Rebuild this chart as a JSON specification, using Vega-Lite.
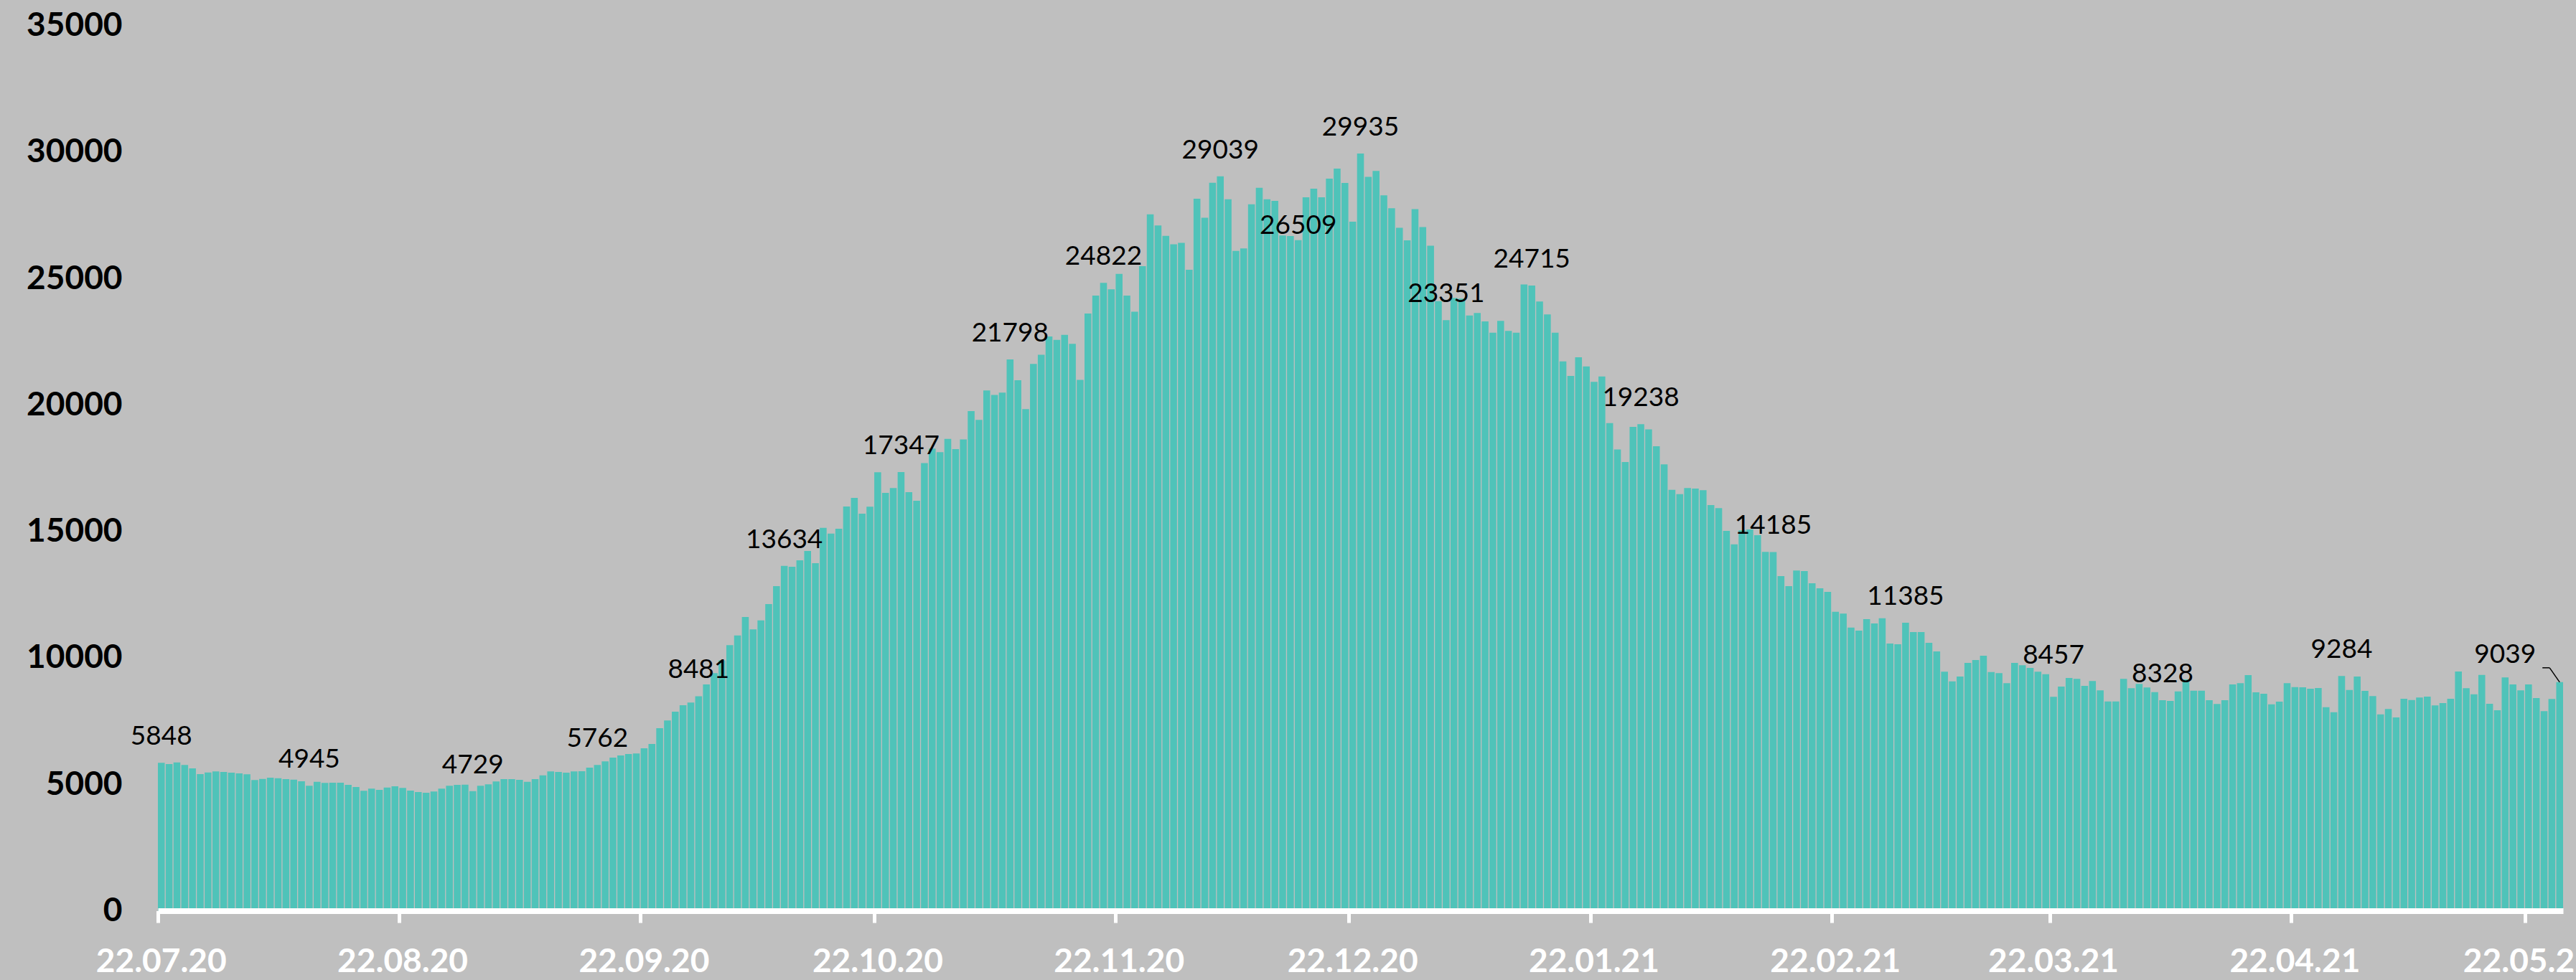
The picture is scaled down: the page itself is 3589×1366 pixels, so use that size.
{
  "$schema": "https://vega.github.io/schema/vega-lite/v6.json",
  "width": 3351,
  "height": 1234,
  "autosize": {"type": "none"},
  "padding": {"left": 220, "top": 35.5, "right": 18, "bottom": 96.5},
  "background": "#BFBFBF",
  "config": {"view": {"stroke": null}, "font": "Lato"},
  "data": {"values": [
    {"d":"22.07.20","v":5848},{"d":"23.07.20","v":5800},{"d":"24.07.20","v":5866},{"d":"25.07.20","v":5763},{"d":"26.07.20","v":5630},{"d":"27.07.20","v":5403},{"d":"28.07.20","v":5469},{"d":"29.07.20","v":5507},{"d":"30.07.20","v":5488},{"d":"31.07.20","v":5460},
    {"d":"01.08.20","v":5431},{"d":"02.08.20","v":5394},{"d":"03.08.20","v":5167},{"d":"04.08.20","v":5214},{"d":"05.08.20","v":5261},{"d":"06.08.20","v":5242},{"d":"07.08.20","v":5205},{"d":"08.08.20","v":5186},{"d":"09.08.20","v":5120},{"d":"10.08.20","v":4945},{"d":"11.08.20","v":5101},{"d":"12.08.20","v":5053},{"d":"13.08.20","v":5063},{"d":"14.08.20","v":5063},{"d":"15.08.20","v":4978},{"d":"16.08.20","v":4893},{"d":"17.08.20","v":4742},{"d":"18.08.20","v":4827},{"d":"19.08.20","v":4780},{"d":"20.08.20","v":4874},{"d":"21.08.20","v":4921},{"d":"22.08.20","v":4855},{"d":"23.08.20","v":4751},{"d":"24.08.20","v":4694},{"d":"25.08.20","v":4666},{"d":"26.08.20","v":4714},{"d":"27.08.20","v":4827},{"d":"28.08.20","v":4941},{"d":"29.08.20","v":4978},{"d":"30.08.20","v":4987},{"d":"31.08.20","v":4729},
    {"d":"01.09.20","v":4941},{"d":"02.09.20","v":4997},{"d":"03.09.20","v":5111},{"d":"04.09.20","v":5205},{"d":"05.09.20","v":5205},{"d":"06.09.20","v":5176},{"d":"07.09.20","v":5101},{"d":"08.09.20","v":5205},{"d":"09.09.20","v":5356},{"d":"10.09.20","v":5507},{"d":"11.09.20","v":5488},{"d":"12.09.20","v":5460},{"d":"13.09.20","v":5507},{"d":"14.09.20","v":5517},{"d":"15.09.20","v":5659},{"d":"16.09.20","v":5762},{"d":"17.09.20","v":5905},{"d":"18.09.20","v":6056},{"d":"19.09.20","v":6141},{"d":"20.09.20","v":6198},{"d":"21.09.20","v":6217},{"d":"22.09.20","v":6425},{"d":"23.09.20","v":6595},{"d":"24.09.20","v":7219},{"d":"25.09.20","v":7522},{"d":"26.09.20","v":7871},{"d":"27.09.20","v":8126},{"d":"28.09.20","v":8231},{"d":"29.09.20","v":8481},{"d":"30.09.20","v":8949},
    {"d":"01.10.20","v":9394},{"d":"02.10.20","v":9900},{"d":"03.10.20","v":10500},{"d":"04.10.20","v":10887},{"d":"05.10.20","v":11615},{"d":"06.10.20","v":11125},{"d":"07.10.20","v":11482},{"d":"08.10.20","v":12126},{"d":"09.10.20","v":12835},{"d":"10.10.20","v":13634},{"d":"11.10.20","v":13600},{"d":"12.10.20","v":13856},{"d":"13.10.20","v":14224},{"d":"14.10.20","v":13742},{"d":"15.10.20","v":15141},{"d":"16.10.20","v":14914},{"d":"17.10.20","v":15104},{"d":"18.10.20","v":15983},{"d":"19.10.20","v":16323},{"d":"20.10.20","v":15700},{"d":"21.10.20","v":15974},{"d":"22.10.20","v":17336},{"d":"23.10.20","v":16522},{"d":"24.10.20","v":16712},{"d":"25.10.20","v":17347},{"d":"26.10.20","v":16547},{"d":"27.10.20","v":16210},{"d":"28.10.20","v":17697},{"d":"29.10.20","v":18272},{"d":"30.10.20","v":18128},{"d":"31.10.20","v":18655},
    {"d":"01.11.20","v":18252},{"d":"02.11.20","v":18635},{"d":"03.11.20","v":19758},{"d":"04.11.20","v":19404},{"d":"05.11.20","v":20572},{"d":"06.11.20","v":20391},{"d":"07.11.20","v":20487},{"d":"08.11.20","v":21798},{"d":"09.11.20","v":20975},{"d":"10.11.20","v":19834},{"d":"11.11.20","v":21619},{"d":"12.11.20","v":21982},{"d":"13.11.20","v":22702},{"d":"14.11.20","v":22569},{"d":"15.11.20","v":22770},{"d":"16.11.20","v":22416},{"d":"17.11.20","v":20986},{"d":"18.11.20","v":23613},{"d":"19.11.20","v":24322},{"d":"20.11.20","v":24822},{"d":"21.11.20","v":24572},{"d":"22.11.20","v":25176},{"d":"23.11.20","v":24322},{"d":"24.11.20","v":23681},{"d":"25.11.20","v":25482},{"d":"26.11.20","v":27535},{"d":"27.11.20","v":27093},{"d":"28.11.20","v":26682},{"d":"29.11.20","v":26347},{"d":"30.11.20","v":26404},
    {"d":"01.12.20","v":25340},{"d":"02.12.20","v":28148},{"d":"03.12.20","v":27402},{"d":"04.12.20","v":28782},{"d":"05.12.20","v":29039},{"d":"06.12.20","v":28129},{"d":"07.12.20","v":26086},{"d":"08.12.20","v":26183},{"d":"09.12.20","v":27927},{"d":"10.12.20","v":28580},{"d":"11.12.20","v":28129},{"d":"12.12.20","v":28062},{"d":"13.12.20","v":26700},{"d":"14.12.20","v":26676},{"d":"15.12.20","v":26509},{"d":"16.12.20","v":28210},{"d":"17.12.20","v":28545},{"d":"18.12.20","v":28210},{"d":"19.12.20","v":28948},{"d":"20.12.20","v":29342},{"d":"21.12.20","v":28775},{"d":"22.12.20","v":27241},{"d":"23.12.20","v":29935},{"d":"24.12.20","v":29015},{"d":"25.12.20","v":29246},{"d":"26.12.20","v":28287},{"d":"27.12.20","v":27777},{"d":"28.12.20","v":27002},{"d":"29.12.20","v":26503},{"d":"30.12.20","v":27740},{"d":"31.12.20","v":27031},
    {"d":"01.01.21","v":26290},{"d":"02.01.21","v":24100},{"d":"03.01.21","v":23351},{"d":"04.01.21","v":24231},{"d":"05.01.21","v":24200},{"d":"06.01.21","v":23531},{"d":"07.01.21","v":23635},{"d":"08.01.21","v":23301},{"d":"09.01.21","v":22850},{"d":"10.01.21","v":23318},{"d":"11.01.21","v":22926},{"d":"12.01.21","v":22850},{"d":"13.01.21","v":24759},{"d":"14.01.21","v":24715},{"d":"15.01.21","v":24086},{"d":"16.01.21","v":23579},{"d":"17.01.21","v":22850},{"d":"18.01.21","v":21718},{"d":"19.01.21","v":21142},{"d":"20.01.21","v":21880},{"d":"21.01.21","v":21517},{"d":"22.01.21","v":20913},{"d":"23.01.21","v":21123},{"d":"24.01.21","v":19282},{"d":"25.01.21","v":18238},{"d":"26.01.21","v":17739},{"d":"27.01.21","v":19128},{"d":"28.01.21","v":19238},{"d":"29.01.21","v":19032},{"d":"30.01.21","v":18363},{"d":"31.01.21","v":17647},
    {"d":"01.02.21","v":16644},{"d":"02.02.21","v":16474},{"d":"03.02.21","v":16712},{"d":"04.02.21","v":16692},{"d":"05.02.21","v":16627},{"d":"06.02.21","v":16040},{"d":"07.02.21","v":15918},{"d":"08.02.21","v":15019},{"d":"09.02.21","v":14489},{"d":"10.02.21","v":15039},{"d":"11.02.21","v":15076},{"d":"12.02.21","v":14848},{"d":"13.02.21","v":14190},{"d":"14.02.21","v":14185},{"d":"15.02.21","v":13232},{"d":"16.02.21","v":12835},{"d":"17.02.21","v":13450},{"d":"18.02.21","v":13430},{"d":"19.02.21","v":12948},{"d":"20.02.21","v":12750},{"d":"21.02.21","v":12608},{"d":"22.02.21","v":11822},{"d":"23.02.21","v":11748},{"d":"24.02.21","v":11198},{"d":"25.02.21","v":11076},{"d":"26.02.21","v":11530},{"d":"27.02.21","v":11360},{"d":"28.02.21","v":11567},
    {"d":"01.03.21","v":10566},{"d":"02.03.21","v":10537},{"d":"03.03.21","v":11385},{"d":"04.03.21","v":11019},{"d":"05.03.21","v":11019},{"d":"06.03.21","v":10594},{"d":"07.03.21","v":10253},{"d":"08.03.21","v":9451},{"d":"09.03.21","v":9071},{"d":"10.03.21","v":9261},{"d":"11.03.21","v":9800},{"d":"12.03.21","v":9913},{"d":"13.03.21","v":10083},{"d":"14.03.21","v":9440},{"d":"15.03.21","v":9394},{"d":"16.03.21","v":8997},{"d":"17.03.21","v":9800},{"d":"18.03.21","v":9706},{"d":"19.03.21","v":9600},{"d":"20.03.21","v":9450},{"d":"21.03.21","v":9350},{"d":"22.03.21","v":8457},{"d":"23.03.21","v":8864},{"d":"24.03.21","v":9204},{"d":"25.03.21","v":9167},{"d":"26.03.21","v":8892},{"d":"27.03.21","v":9082},{"d":"28.03.21","v":8713},{"d":"29.03.21","v":8277},{"d":"30.03.21","v":8277},{"d":"31.03.21","v":9167},
    {"d":"01.04.21","v":8798},{"d":"02.04.21","v":8968},{"d":"03.04.21","v":8826},{"d":"04.04.21","v":8646},{"d":"05.04.21","v":8328},{"d":"06.04.21","v":8297},{"d":"07.04.21","v":8675},{"d":"08.04.21","v":9147},{"d":"09.04.21","v":8703},{"d":"10.04.21","v":8703},{"d":"11.04.21","v":8325},{"d":"12.04.21","v":8174},{"d":"13.04.21","v":8325},{"d":"14.04.21","v":8949},{"d":"15.04.21","v":8997},{"d":"16.04.21","v":9318},{"d":"17.04.21","v":8637},{"d":"18.04.21","v":8580},{"d":"19.04.21","v":8164},{"d":"20.04.21","v":8268},{"d":"21.04.21","v":8997},{"d":"22.04.21","v":8845},{"d":"23.04.21","v":8835},{"d":"24.04.21","v":8779},{"d":"25.04.21","v":8807},{"d":"26.04.21","v":8051},{"d":"27.04.21","v":7851},{"d":"28.04.21","v":9284},{"d":"29.04.21","v":8731},{"d":"30.04.21","v":9261},
    {"d":"01.05.21","v":8693},{"d":"02.05.21","v":8487},{"d":"03.05.21","v":7766},{"d":"04.05.21","v":7976},{"d":"05.05.21","v":7644},{"d":"06.05.21","v":8382},{"d":"07.05.21","v":8334},{"d":"08.05.21","v":8429},{"d":"09.05.21","v":8467},{"d":"10.05.21","v":8117},{"d":"11.05.21","v":8211},{"d":"12.05.21","v":8382},{"d":"13.05.21","v":9459},{"d":"14.05.21","v":8798},{"d":"15.05.21","v":8561},{"d":"16.05.21","v":9327},{"d":"17.05.21","v":8183},{"d":"18.05.21","v":7928},{"d":"19.05.21","v":9224},{"d":"20.05.21","v":8949},{"d":"21.05.21","v":8713},{"d":"22.05.21","v":8949},{"d":"23.05.21","v":8410},{"d":"24.05.21","v":7890},{"d":"25.05.21","v":8373},{"d":"26.05.21","v":9039}
  ]},
  "encoding": {
    "x": {
      "field": "d", "type": "ordinal", "sort": null,
      "scale": {"paddingInner": 0.12, "paddingOuter": 0},
      "axis": {
        "title": null,
        "values": ["22.07.20","22.08.20","22.09.20","22.10.20","22.11.20","22.12.20","22.01.21","22.02.21","22.03.21","22.04.21","22.05.21"],
        "bandPosition": 0,
        "labelAngle": 0,
        "labelFont": "Lato", "labelFontSize": 46, "labelFontWeight": "bold", "labelColor": "#FFFFFF",
        "labelLimit": 0,
        "labelPadding": 32, "labelOverlap": false, "labelBound": false, "labelFlush": false,
        "domainColor": "#FFFFFF", "domainWidth": 8,
        "tickColor": "#FFFFFF", "tickWidth": 5, "tickSize": 16.5,
        "grid": false, "zindex": 1
      }
    },
    "y": {
      "field": "v", "type": "quantitative",
      "scale": {"domain": [0, 35000], "nice": false},
      "axis": {
        "title": null,
        "values": [0,5000,10000,15000,20000,25000,30000,35000],
        "format": "d",
        "labelFont": "Lato", "labelFontSize": 46, "labelFontWeight": "bold", "labelColor": "#000000",
        "labelLimit": 0,
        "labelPadding": 50, "ticks": false, "tickSize": 0, "domain": false, "grid": false
      }
    }
  },
  "layer": [
    {"mark": {"type": "bar", "color": "#4FC3B9"}},
    {
      "transform": [{"filter": {"field": "d", "oneOf": ["22.07.20","10.08.20","31.08.20","16.09.20","29.09.20","10.10.20","25.10.20","08.11.20","20.11.20","05.12.20","23.12.20","03.01.21","14.01.21","28.01.21","14.02.21","03.03.21","05.04.21","28.04.21"]}}],
      "mark": {"type": "text", "font": "Lato", "fontSize": 37, "color": "#000000", "baseline": "middle", "align": "center", "dy": -36},
      "encoding": {"text": {"field": "v", "type": "quantitative", "format": "d"}}
    },
    {
      "transform": [{"filter": {"field": "d", "equal": "15.12.20"}}],
      "mark": {"type": "text", "font": "Lato", "fontSize": 37, "color": "#000000", "baseline": "middle", "align": "center", "dy": -20},
      "encoding": {"text": {"field": "v", "type": "quantitative", "format": "d"}}
    },
    {
      "transform": [{"filter": {"field": "d", "equal": "22.03.21"}}],
      "mark": {"type": "text", "font": "Lato", "fontSize": 37, "color": "#000000", "baseline": "middle", "align": "center", "dy": -57},
      "encoding": {"text": {"field": "v", "type": "quantitative", "format": "d"}}
    },
    {
      "transform": [{"filter": {"field": "d", "equal": "26.05.21"}}],
      "mark": {"type": "text", "font": "Lato", "fontSize": 37, "color": "#000000", "baseline": "middle", "align": "center", "dx": -76, "dy": -38},
      "encoding": {"text": {"field": "v", "type": "quantitative", "format": "d"}}
    },
    {
      "transform": [{"filter": {"field": "d", "equal": "26.05.21"}}],
      "mark": {"type": "rule", "color": "#000000", "strokeWidth": 1.5, "xOffset": -14, "yOffset": -20, "x2Offset": 0, "y2Offset": 0},
      "encoding": {"x2": {"field": "d"}, "y2": {"field": "v"}}
    },
    {
      "transform": [{"filter": {"field": "d", "equal": "26.05.21"}}],
      "mark": {"type": "rule", "color": "#000000", "strokeWidth": 1.5, "xOffset": -24, "yOffset": -20, "x2Offset": -14, "y2Offset": -20},
      "encoding": {"x2": {"field": "d"}, "y2": {"field": "v"}}
    }
  ]
}
